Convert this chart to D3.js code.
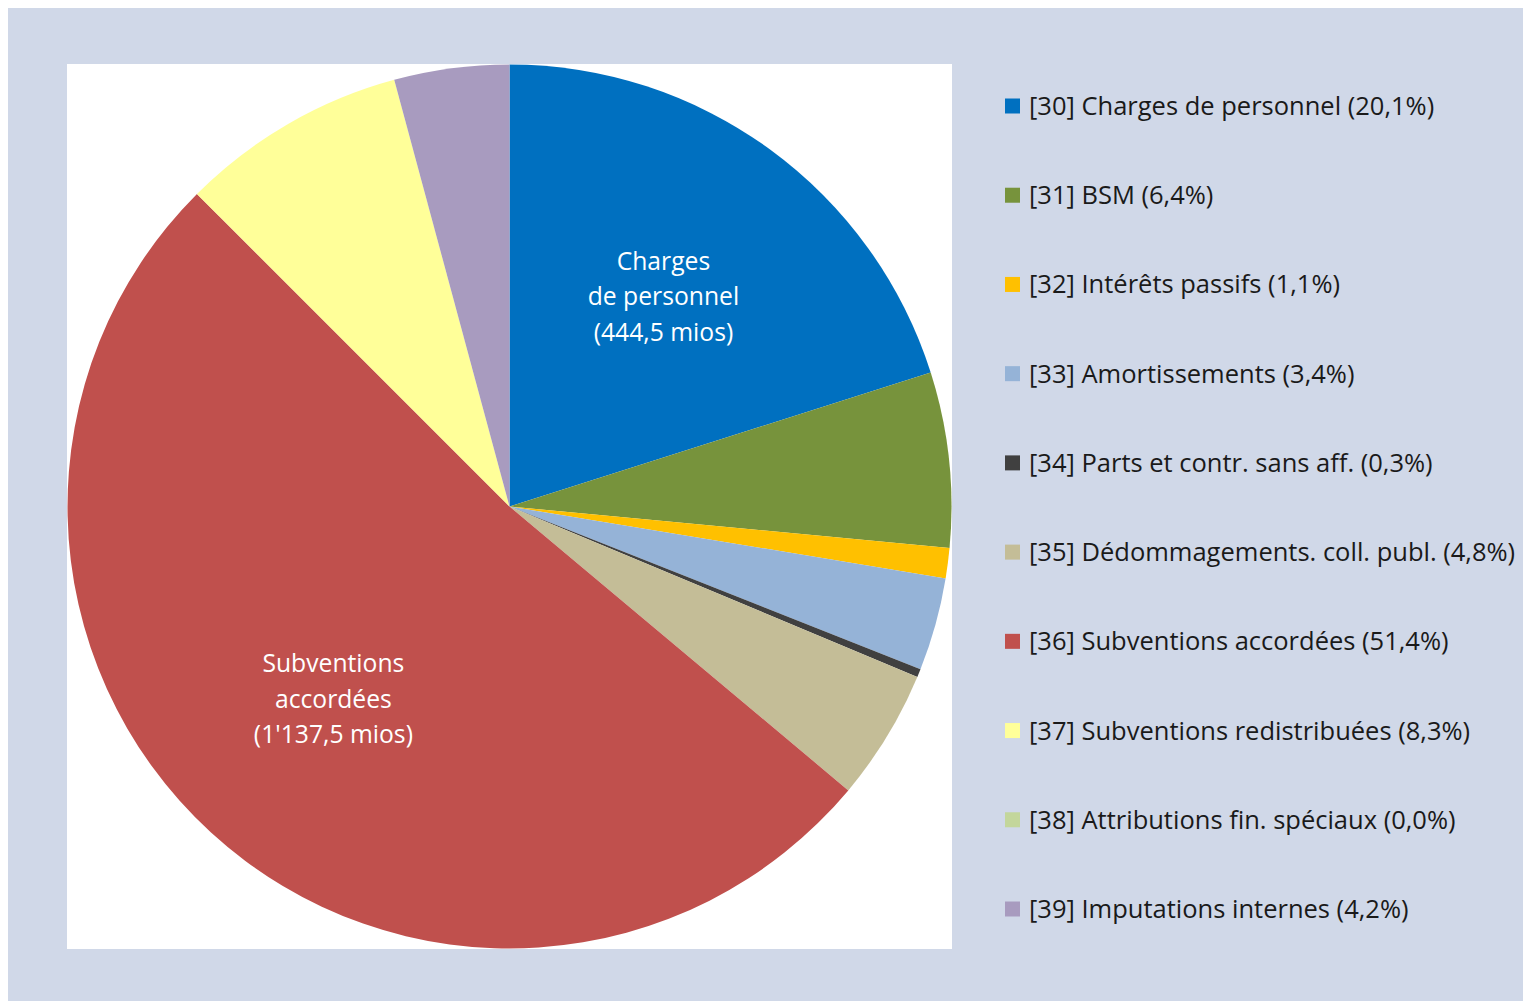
<!DOCTYPE html>
<meta charset="utf-8">
<title>Charges par nature</title>
<style>
body { margin: 0; background: #fff; }
svg text { font-family: "Open Sans", "Noto Sans", sans-serif; }
</style>
<svg width="1523" height="1001"></svg>
<script src="https://d3js.org/d3.v7.min.js"></script>
<script>

// legend labels (nature codes)
var categories = [
  "[30] Charges de personnel",
  "[31] BSM",
  "[32] Intérêts passifs",
  "[33] Amortissements",
  "[34] Parts et contr. sans aff.",
  "[35] Dédommagements. coll. publ.",
  "[36] Subventions accordées",
  "[37] Subventions redistribuées",
  "[38] Attributions fin. spéciaux",
  "[39] Imputations internes"
];
// shares in percent, as printed in the legend
var shares = [20.1, 6.4, 1.1, 3.4, 0.3, 4.8, 51.4, 8.3, 0.0, 4.2];
var shareLabels = ["20,1%", "6,4%", "1,1%", "3,4%", "0,3%", "4,8%", "51,4%", "8,3%", "0,0%", "4,2%"];
// labels written inside the two big slices
var sliceLabels = [
  ["Charges", "de personnel", "(444,5 mios)"],
  null, null, null, null, null,
  ["Subventions", "accordées", "(1'137,5 mios)"],
  null, null, null
];
var colors = ["#0070C0", "#77933C", "#FFC000", "#95B3D7", "#404040",
              "#C4BD97", "#C0504D", "#FFFF99", "#C3D69B", "#A89BBF"];

var svg = d3.select("svg");

// grey-blue frame
svg.append("rect")
    .attr("x", 8).attr("y", 8)
    .attr("width", 1515).attr("height", 993)
    .attr("fill", "#D0D8E8");

// white plot area
var plot = { x: 67, y: 64, w: 885, h: 885 };
svg.append("rect")
    .attr("x", plot.x).attr("y", plot.y)
    .attr("width", plot.w).attr("height", plot.h)
    .attr("fill", "#fff");

var radius = plot.w / 2 - 0.5;
var g = svg.append("g")
    .attr("transform", "translate(" + (plot.x + plot.w / 2) + "," + (plot.y + plot.h / 2) + ")");

var pie = d3.pie().sort(null).value(function(d) { return d; });
var arc = d3.arc().innerRadius(0).outerRadius(radius);
var labelArc = d3.arc().innerRadius(radius * 0.59).outerRadius(radius * 0.59);

var arcs = pie(shares);

g.selectAll("path")
  .data(arcs)
  .enter().append("path")
    .attr("d", arc)
    .attr("fill", function(d, i) { return colors[i]; });

// labels inside the slices
arcs.forEach(function(d, i) {
  if (!sliceLabels[i]) return;
  var c = labelArc.centroid(d);
  var t = g.append("text")
      .attr("text-anchor", "middle")
      .attr("fill", "#fff")
      .attr("font-size", 24.7)
      .attr("transform", "translate(" + c[0] + "," + c[1] + ")");
  sliceLabels[i].forEach(function(line, j) {
    t.append("tspan")
      .attr("x", 0)
      .attr("y", (j - 1) * 35.5 + 9)
      .text(line);
  });
});

// legend
var ly = d3.scalePoint()
    .domain(d3.range(categories.length))
    .range([106, 909]);

var leg = svg.append("g").selectAll("g")
  .data(categories)
  .enter().append("g")
    .attr("transform", function(d, i) { return "translate(1005," + ly(i) + ")"; });

leg.append("rect")
    .attr("x", 0).attr("y", -7.5)
    .attr("width", 15).attr("height", 15)
    .attr("fill", function(d, i) { return colors[i]; });

leg.append("text")
    .attr("x", 24)
    .attr("y", 9)
    .attr("font-size", 25.5)
    .attr("fill", "#1a1a1a")
    .text(function(d, i) { return d + " (" + shareLabels[i] + ")"; });

</script>
